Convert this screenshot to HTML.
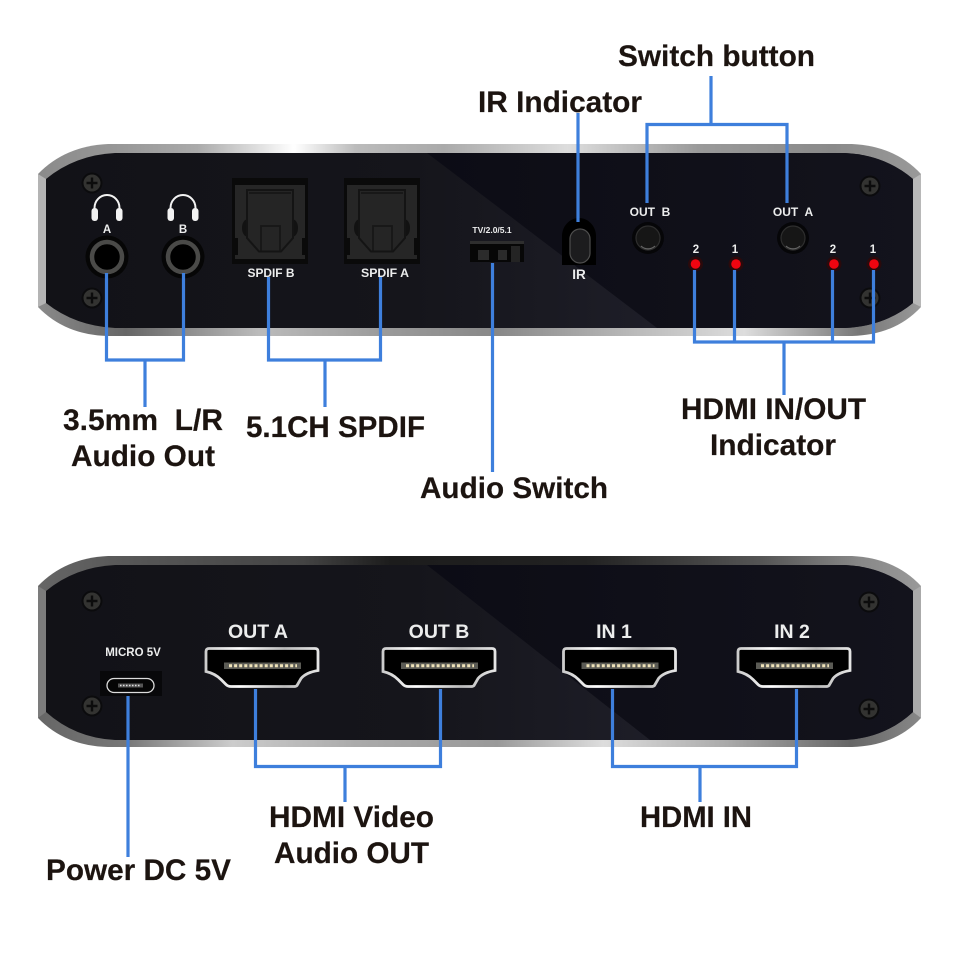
<!DOCTYPE html>
<html><head><meta charset="utf-8">
<style>
html,body{margin:0;padding:0;background:#fff;width:960px;height:960px;overflow:hidden}
svg{display:block}
.lb{font:bold 30px "Liberation Sans",sans-serif;fill:#1c1410;stroke:#1c1410;stroke-width:.2px}
.sm{font-family:"Liberation Sans",sans-serif;font-weight:bold;fill:#eceded;text-anchor:middle}
.ln{stroke:#3e7fdc;stroke-width:3.2;fill:none;stroke-linecap:butt;stroke-linejoin:miter}
</style></head><body>
<svg width="960" height="960" viewBox="0 0 960 960" xmlns="http://www.w3.org/2000/svg">
<defs>
<linearGradient id="s1" x1="38" x2="921" y1="0" y2="0" gradientUnits="userSpaceOnUse">
<stop offset="0" stop-color="#8a8a8a"/><stop offset=".1" stop-color="#999"/><stop offset=".18" stop-color="#aaa"/><stop offset=".29" stop-color="#fff"/><stop offset=".36" stop-color="#bbb"/><stop offset=".46" stop-color="#aaa"/><stop offset=".6" stop-color="#ddd"/><stop offset=".75" stop-color="#999"/><stop offset=".9" stop-color="#8a8a8a"/><stop offset="1" stop-color="#999"/>
</linearGradient>
<linearGradient id="s1b" x1="38" x2="921" y1="0" y2="0" gradientUnits="userSpaceOnUse">
<stop offset="0" stop-color="#8a8a8a"/><stop offset=".1" stop-color="#666"/><stop offset=".25" stop-color="#bbb"/><stop offset=".4" stop-color="#999"/><stop offset=".52" stop-color="#888"/><stop offset=".68" stop-color="#bbb"/><stop offset=".8" stop-color="#ddd"/><stop offset=".93" stop-color="#777"/><stop offset="1" stop-color="#999"/>
</linearGradient>
<linearGradient id="s2" x1="38" x2="921" y1="0" y2="0" gradientUnits="userSpaceOnUse">
<stop offset="0" stop-color="#666"/><stop offset=".12" stop-color="#555"/><stop offset=".3" stop-color="#444"/><stop offset=".4" stop-color="#1c1c1c"/><stop offset=".62" stop-color="#222"/><stop offset=".82" stop-color="#555"/><stop offset=".93" stop-color="#888"/><stop offset="1" stop-color="#999"/>
</linearGradient>
<linearGradient id="s2b" x1="38" x2="921" y1="0" y2="0" gradientUnits="userSpaceOnUse">
<stop offset="0" stop-color="#666"/><stop offset=".1" stop-color="#777"/><stop offset=".22" stop-color="#ccc"/><stop offset=".36" stop-color="#aaa"/><stop offset=".52" stop-color="#999"/><stop offset=".64" stop-color="#ddd"/><stop offset=".78" stop-color="#aaa"/><stop offset=".92" stop-color="#666"/><stop offset="1" stop-color="#888"/>
</linearGradient>
<linearGradient id="bgL" x1="46" x2="660" y1="0" y2="0" gradientUnits="userSpaceOnUse">
<stop offset="0" stop-color="#121217"/><stop offset=".6" stop-color="#15151b"/><stop offset="1" stop-color="#1e1e28"/>
</linearGradient>
<linearGradient id="bgR" x1="427" x2="913" y1="0" y2="0" gradientUnits="userSpaceOnUse">
<stop offset="0" stop-color="#0c0c15"/><stop offset="1" stop-color="#13131c"/>
</linearGradient>
<linearGradient id="hm" x1="0" x2="112" y1="0" y2="0" gradientUnits="userSpaceOnUse">
<stop offset="0" stop-color="#ccc"/><stop offset=".3" stop-color="#fff"/><stop offset=".7" stop-color="#bbb"/><stop offset="1" stop-color="#e4e4e4"/>
</linearGradient>
<clipPath id="c1"><path d="M46 179Q75 155 115 153H845Q885 155 913 179V303Q885 326 845 328H115Q75 326 46 303Z"/></clipPath>
<clipPath id="c2"><path d="M46 591Q75 567 115 565H845Q885 567 913 591V712Q885 738 845 740H115Q75 738 46 712Z"/></clipPath>
<clipPath id="o1"><path d="M38 174Q65 146 108 144H852Q895 146 921 174V307Q895 335 852 336H108Q65 335 38 307Z"/></clipPath>
<clipPath id="o2"><path d="M38 586Q65 558 108 556H852Q895 558 921 586V718Q895 746 852 747H108Q65 746 38 718Z"/></clipPath>
<g id="screw"><circle r="10.5" fill="#0b0b0d"/><circle r="8.5" fill="#333331"/><path d="M-5.5 0H5.5M0-5.5V5.5" stroke="#0c0c0c" stroke-width="2.4"/></g>
<g id="hp" fill="none"><path d="M-12.5 7V3A12.5 13 0 0 1 12.5 3V7" stroke="#f2f2f2" stroke-width="2"/><rect x="-15.500" y="3" width="6.500" height="13" rx="3" fill="#f2f2f2"/><rect x="9" y="3" width="6.500" height="13" rx="3" fill="#f2f2f2"/></g>
<g id="jack"><circle r="21.500" fill="#060606"/><circle r="15" fill="#000" stroke="#4a4a48" stroke-width="4.500"/></g>
<g id="spdif"><rect width="76" height="86" fill="#0a0a0a"/><rect x="3" y="7" width="70" height="74" fill="#262626"/><ellipse cx="15" cy="50" rx="5" ry="8.500" fill="#121212"/><ellipse cx="61" cy="50" rx="5" ry="8.500" fill="#121212"/><path d="M15 12H61V60L49 73.500H27L15 60Z" fill="#252525" stroke="#141414" stroke-width="2"/><path d="M17 15H59" stroke="#141414" stroke-width="1.500"/><path d="M29 72.500V48H48V72.500" fill="none" stroke="#171717" stroke-width="1.800"/><rect x="1" y="60" width="5" height="17" fill="#0a0a0a"/><rect x="70" y="60" width="5" height="17" fill="#0a0a0a"/></g>
<g id="btn"><circle r="16" fill="#060608"/><circle r="12" fill="#161616" stroke="#2e2e2e" stroke-width="1.200"/><path d="M-7 8A10 10 0 0 0 7 8" fill="none" stroke="#666" stroke-width="1.200"/></g>
<g id="led"><circle r="7.500" fill="#2a0a0c"/><circle r="4.800" fill="#ee0510"/></g>
<g id="hdmi"><path d="M3 0H109Q112 0 112 3V22Q100 24 95 30L91 37Q90 38 88 38H25Q22 38 20 36L15 31Q9 25 0 23V3Q0 0 3 0Z" fill="#000" stroke="url(#hm)" stroke-width="2.800"/><rect x="18" y="14" width="77" height="6.500" fill="#5b5b55"/><path d="M23 17.200H91" stroke="#eee2b8" stroke-width="3" stroke-dasharray="3 2.100"/></g>
</defs>

<!-- top panel -->
<g clip-path="url(#o1)"><rect x="30" y="140" width="900" height="100" fill="url(#s1)"/><rect x="30" y="240" width="900" height="100" fill="url(#s1b)"/></g>
<polygon points="38,174 46,179 46,303 38,307" fill="#b4b4b4"/><polygon points="921,174 913,179 913,303 921,307" fill="#b8b8b8"/>
<g clip-path="url(#c1)"><rect x="40" y="150" width="880" height="180" fill="url(#bgL)"/><polygon points="427,153 657,328 913,328 913,153" fill="url(#bgR)"/></g>
<use href="#screw" x="92" y="183"/><use href="#screw" x="92" y="298"/><use href="#screw" x="870" y="186"/><use href="#screw" x="870" y="298"/>
<use href="#hp" x="107" y="205"/><use href="#hp" x="183" y="205"/>
<text class="sm" x="107" y="233" font-size="11.500">A</text><text class="sm" x="183" y="233" font-size="11.500">B</text>
<use href="#jack" x="107" y="257"/><use href="#jack" x="183" y="257"/>
<use href="#spdif" x="232" y="178"/><use href="#spdif" x="344" y="178"/>
<text class="sm" x="271" y="277" font-size="11.500" textLength="47" lengthAdjust="spacingAndGlyphs">SPDIF B</text>
<text class="sm" x="385" y="277" font-size="11.500" textLength="48" lengthAdjust="spacingAndGlyphs">SPDIF A</text>
<text class="sm" x="492" y="233" font-size="8.500">TV/2.0/5.1</text>
<rect x="470" y="241" width="54" height="21" fill="#070707"/><rect x="470" y="241" width="54" height="3" fill="#2e2e2e"/><rect x="478" y="250" width="11" height="10" fill="#2b2b2b"/><rect x="498" y="250" width="9" height="10" fill="#2b2b2b"/><rect x="511" y="246" width="9" height="16" fill="#242424"/>
<path d="M562 265V236C562 226 570 218 579 218C588 218 596 226 596 236V265Z" fill="#000"/>
<rect x="570" y="229" width="20" height="34" rx="10" fill="#1c1c1e" stroke="#4d4d4d" stroke-width="1.200"/>
<text class="sm" x="579" y="279" font-size="13.500">IR</text>
<text class="sm" x="650" y="216" font-size="12" xml:space="preserve">OUT  B</text>
<text class="sm" x="793" y="216" font-size="12" xml:space="preserve">OUT  A</text>
<use href="#btn" x="648" y="238"/><use href="#btn" x="793" y="238"/>
<text class="sm" x="696" y="253" font-size="11.500">2</text><text class="sm" x="735" y="253" font-size="11.500">1</text><text class="sm" x="833" y="253" font-size="11.500">2</text><text class="sm" x="873" y="253" font-size="11.500">1</text>
<use href="#led" x="695.500" y="264"/><use href="#led" x="736" y="264"/><use href="#led" x="834" y="264"/><use href="#led" x="874" y="264"/>

<!-- bottom panel -->
<g clip-path="url(#o2)"><rect x="30" y="550" width="900" height="100" fill="url(#s2)"/><rect x="30" y="650" width="900" height="100" fill="url(#s2b)"/></g>
<polygon points="38,586 46,591 46,712 38,718" fill="#7c7c7c"/><polygon points="921,586 913,591 913,712 921,718" fill="#aaa"/>
<g clip-path="url(#c2)"><rect x="40" y="560" width="880" height="185" fill="url(#bgL)"/><polygon points="427,565 650,740 913,740 913,565" fill="url(#bgR)"/></g>
<use href="#screw" x="92" y="601"/><use href="#screw" x="92" y="706"/><use href="#screw" x="869" y="602"/><use href="#screw" x="869" y="709"/>
<text class="sm" x="133" y="656" font-size="11.500">MICRO 5V</text>
<rect x="100" y="671" width="62" height="25" fill="#08080a"/>
<rect x="107" y="678.500" width="47" height="14" rx="7" fill="#050505" stroke="#dcdcdc" stroke-width="1.300"/>
<rect x="118" y="683.500" width="25" height="4" fill="#555"/><path d="M120 685.500H141" stroke="#ddd" stroke-width="1.500" stroke-dasharray="1.500 1.500"/>
<text class="sm" x="258" y="638" font-size="19.500">OUT A</text><text class="sm" x="439" y="638" font-size="19.500">OUT B</text><text class="sm" x="614" y="638" font-size="19.500">IN 1</text><text class="sm" x="792" y="638" font-size="19.500">IN 2</text>
<use href="#hdmi" x="206" y="648.500"/><use href="#hdmi" x="383" y="648.500"/><use href="#hdmi" x="563.500" y="648.500"/><use href="#hdmi" x="738" y="648.500"/>

<!-- connectors -->
<path class="ln" d="M106.500 273V360H183.500V273M145 360V407"/>
<path class="ln" d="M268.500 277V360H380.500V277M325 360V407"/>
<path class="ln" d="M492.500 263V472"/>
<path class="ln" d="M578 113V222"/>
<path class="ln" d="M647 203V124.500H787V203M711 124.500V76"/>
<path class="ln" d="M694.500 270V342H873.500V270M734.500 270V342M832.500 270V342M784 342V395"/>
<path class="ln" d="M128 696V857"/>
<path class="ln" d="M255.500 689V766.500H440.500V689M345 766.500V802"/>
<path class="ln" d="M612.500 689V766.500H796.500V689M700 766.500V802"/>

<!-- labels -->
<text class="lb" x="618" y="66" textLength="197" lengthAdjust="spacingAndGlyphs">Switch button</text>
<text class="lb" x="478" y="112" textLength="164" lengthAdjust="spacingAndGlyphs">IR Indicator</text>
<text class="lb" x="63" y="430" textLength="160" lengthAdjust="spacing" xml:space="preserve">3.5mm  L/R</text>
<text class="lb" x="71" y="466" textLength="144" lengthAdjust="spacingAndGlyphs">Audio Out</text>
<text class="lb" x="246" y="437" textLength="179" lengthAdjust="spacingAndGlyphs">5.1CH SPDIF</text>
<text class="lb" x="420" y="498" textLength="188" lengthAdjust="spacingAndGlyphs">Audio Switch</text>
<text class="lb" x="681" y="419" textLength="185" lengthAdjust="spacingAndGlyphs">HDMI IN/OUT</text>
<text class="lb" x="710" y="455" textLength="126" lengthAdjust="spacingAndGlyphs">Indicator</text>
<text class="lb" x="269" y="827" textLength="165" lengthAdjust="spacingAndGlyphs">HDMI Video</text>
<text class="lb" x="274" y="863" textLength="155" lengthAdjust="spacingAndGlyphs">Audio OUT</text>
<text class="lb" x="640" y="827" textLength="112" lengthAdjust="spacingAndGlyphs">HDMI IN</text>
<text class="lb" x="46" y="880" textLength="185" lengthAdjust="spacingAndGlyphs">Power DC 5V</text>
</svg>
</body></html>
